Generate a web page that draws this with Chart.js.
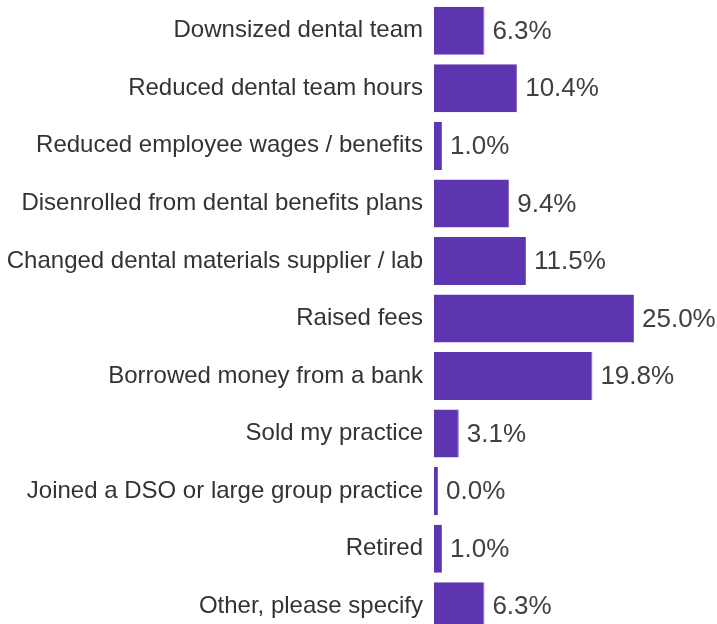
<!DOCTYPE html>
<html>
<head>
<meta charset="utf-8">
<script src="https://cdn.jsdelivr.net/npm/chart.js@4"></script>
<style>
  html, body { margin: 0; padding: 0; background: #fff; overflow: hidden; }
  #wrap { width: 717px; height: 636px; position: relative; }
</style>
</head>
<body>
<div id="wrap"><canvas id="chart"></canvas></div>
<script>
const categories = [
  'Downsized dental team',
  'Reduced dental team hours',
  'Reduced employee wages / benefits',
  'Disenrolled from dental benefits plans',
  'Changed dental materials supplier / lab',
  'Raised fees',
  'Borrowed money from a bank',
  'Sold my practice',
  'Joined a DSO or large group practice',
  'Retired',
  'Other, please specify'
];
const percents = [6.3, 10.4, 1.0, 9.4, 11.5, 25.0, 19.8, 3.1, 0.0, 1.0, 6.3];

const valueLabels = {
  id: 'valueLabels',
  afterDatasetsDraw(chart) {
    const ctx = chart.ctx;
    const meta = chart.getDatasetMeta(0);
    ctx.save();
    ctx.font = '26px "Liberation Sans", Arial, sans-serif';
    ctx.fillStyle = '#404040';
    ctx.textBaseline = 'middle';
    ctx.textAlign = 'left';
    meta.data.forEach((bar, i) => {
      ctx.fillText(percents[i].toFixed(1) + '%', bar.x + 8, bar.y + 1);
    });
    ctx.restore();
  }
};

new Chart(document.getElementById('chart'), {
  type: 'bar',
  data: {
    labels: categories,
    datasets: [{
      data: percents,
      backgroundColor: '#5E35B1',
      borderColor: '#7E5CC4',
      borderWidth: { right: 1 },
      borderSkipped: 'start',
      minBarLength: 4,
      categoryPercentage: 0.835,
      barPercentage: 1
    }]
  },
  options: {
    indexAxis: 'y',
    responsive: true,
    maintainAspectRatio: false,
    animation: false,
    layout: { padding: { left: 0, right: 3, top: 2, bottom: 1 } },
    plugins: {
      legend: { display: false },
      tooltip: { enabled: false }
    },
    scales: {
      x: {
        min: 0,
        max: 35,
        display: false
      },
      y: {
        grid: { display: false, drawTicks: false },
        border: { display: false },
        afterFit(scale) {
          scale.width = 434;
          scale.paddingTop = 0;
          scale.paddingBottom = 0;
        },
        ticks: {
          color: '#333333',
          padding: 11,
          font: { family: '"Liberation Sans", Arial, sans-serif', size: 24 }
        }
      }
    }
  },
  plugins: [valueLabels]
});
</script>
</body>
</html>
